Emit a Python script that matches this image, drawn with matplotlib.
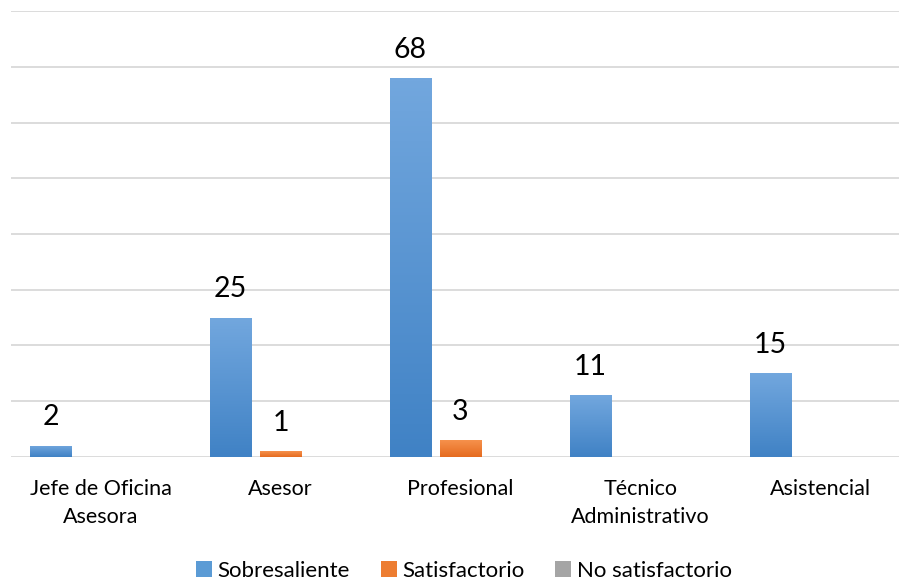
import matplotlib
matplotlib.use("Agg")
import matplotlib.pyplot as plt
import numpy as np
from matplotlib.patches import Patch

categories = ["Jefe de Oficina\nAsesora", "Asesor", "Profesional", "Técnico\nAdministrativo", "Asistencial"]
series_names = ["Sobresaliente", "Satisfactorio", "No satisfactorio"]
sobresaliente = [2, 25, 68, 11, 15]
satisfactorio = [0, 1, 3, 0, 0]
no_satisfactorio = [0, 0, 0, 0, 0]
values = [sobresaliente, satisfactorio, no_satisfactorio]

grad_colors = [("#72a7de", "#4082c5"), ("#f6914c", "#e56b1f"), ("#b5b5b5", "#8c8c8c")]
legend_colors = ["#5b9bd5", "#ed7d31", "#a5a5a5"]

FONT = "Lato"
plt.rcParams['font.family'] = [FONT, 'DejaVu Sans']

W, H = 899, 580
fig = plt.figure(figsize=(W / 100, H / 100), dpi=100)
left_px, right_px = 10.5, 910.5
base_px, top_px = 456.7, 11.3
ax = fig.add_axes([left_px / W, (H - base_px) / H, (right_px - left_px) / W, (base_px - top_px) / H])

x = np.arange(len(categories))
bw = 0.231
offsets = [-0.278, 0.0, 0.278]

def hex2rgb(h):
    h = h.lstrip('#')
    return np.array([int(h[i:i + 2], 16) / 255 for i in (0, 2, 4)])

for vals, off, (ctop, cbot) in zip(values, offsets, grad_colors):
    bars = ax.bar(x + off, vals, width=bw, color=ctop, zorder=2, linewidth=0)
    t, b = hex2rgb(ctop), hex2rgb(cbot)
    grad = np.linspace(0, 1, 64)[:, None, None]
    img = t[None, None, :] * (1 - grad) + b[None, None, :] * grad
    for bar, v in zip(bars, vals):
        if v <= 0:
            continue
        bx, by = bar.get_x(), bar.get_y()
        bwid, bh = bar.get_width(), bar.get_height()
        im = ax.imshow(img, extent=[bx, bx + bwid, by, by + bh], aspect='auto',
                       origin='upper', zorder=3, interpolation='bilinear')
        im.set_clip_path(bar)
        ax.annotate(str(v), (bx + bwid / 2, by + bh), xytext=(0, 11),
                    textcoords='offset points', ha='center', va='bottom',
                    fontsize=20.5, color='#000000', zorder=4)

ax.set_xlim(-0.5, len(categories) - 0.5)
ax.set_ylim(0, 80)
ax.set_yticks(np.arange(0, 81, 10))
ax.yaxis.grid(True, color='#d9d9d9', linewidth=1.3, zorder=0)
ax.set_axisbelow(True)
ax.tick_params(axis='y', left=False, labelleft=False)
ax.set_xticks(x)
ax.set_xticklabels(categories, fontsize=15.5, color='#000000', linespacing=1.5)
ax.tick_params(axis='x', length=0, pad=16)
for s in ax.spines.values():
    s.set_visible(False)

handles = [Patch(facecolor=c, edgecolor='none', label=n) for c, n in zip(legend_colors, series_names)]
fig.legend(handles=handles, loc='center', bbox_to_anchor=(464 / W, 1 - 571 / H), ncol=3,
           frameon=False, fontsize=16, handlelength=0.7, handleheight=0.7,
           handletextpad=0.25, columnspacing=1.4, borderpad=0)

fig.savefig("out.png", dpi=100)
